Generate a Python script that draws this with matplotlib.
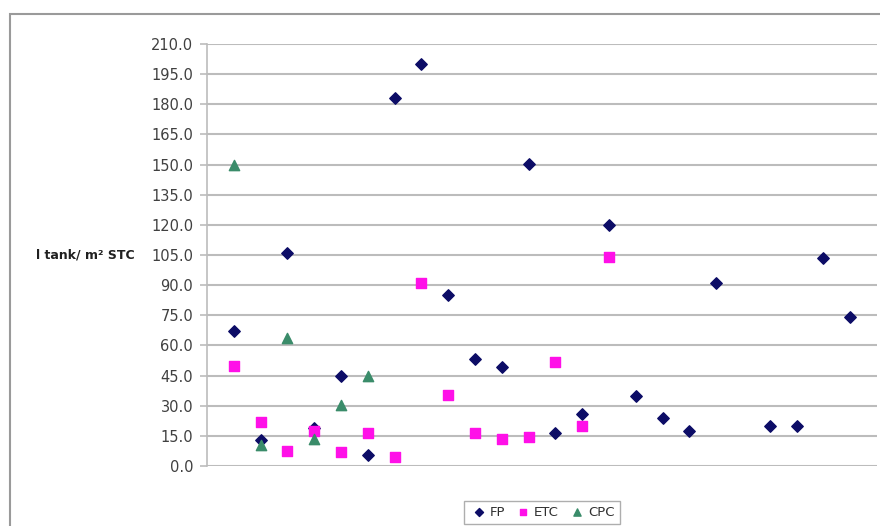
import matplotlib.pyplot as plt
from matplotlib.patches import Rectangle
from matplotlib.ticker import FormatStrFormatter

# valores (una posicion por instalacion)
fp_x = [1, 2, 3, 4, 5, 6, 7, 8, 9, 10, 11, 12, 13, 14, 15, 16, 17, 18, 19, 21, 22, 23, 24]
fp_y = [67, 13, 106, 19, 45, 5.5, 183, 200, 85, 53, 49.5, 150.5, 16.5, 26, 120, 35, 24, 17.5, 91, 20, 20, 103.5, 74]

etc_x = [1, 2, 3, 4, 5, 6, 7, 8, 9, 10, 11, 12, 13, 14, 15]
etc_y = [50, 22, 7.5, 17.5, 7, 16.5, 4.5, 91, 35.5, 16.5, 13.5, 14.5, 52, 20, 104]

cpc_x = [1, 2, 3, 4, 5, 6]
cpc_y = [150, 10.5, 63.5, 13.5, 30.5, 45]

y_ticks = [i * 15 for i in range(15)]

fig = plt.figure(figsize=(8.8, 5.26), dpi=100)
ax = fig.add_axes([207 / 880, 1 - 466 / 526, 670 / 880, 422 / 526])

ax.scatter(fp_x, fp_y, marker='D', s=34, color='#0c0c66', label='FP', zorder=3)
ax.scatter(etc_x, etc_y, marker='s', s=50, color='#ff10e8', label='ETC', zorder=3)
ax.scatter(cpc_x, cpc_y, marker='^', s=55, color='#3a8c6a', label='CPC', zorder=4)

ax.set_xlim(0, 25)
ax.set_ylim(0, 210)
ax.set_yticks(y_ticks)
ax.yaxis.set_major_formatter(FormatStrFormatter('%.1f'))
ax.set_xticks([])
ax.grid(axis='y', color='#bcbcbc', linewidth=1.5)
ax.set_axisbelow(True)
for lado in ['top', 'right', 'bottom']:
    ax.spines[lado].set_visible(False)
ax.spines['left'].set_color('#bcbcbc')
ax.spines['left'].set_linewidth(1.2)
ax.tick_params(axis='y', colors='#bcbcbc', labelcolor='#404040', labelsize=10.5,
               length=5, width=1.2, pad=5)

fig.text(135 / 880, 1 - 255 / 526, 'l tank/ m² STC', ha='right', va='center',
         fontsize=9, fontweight='bold', color='#202020')

# marco exterior del grafico
fig.patches.append(Rectangle((10 / 880, -0.1), 1.0, 1 - 14 / 526 + 0.1,
                             transform=fig.transFigure, fill=False,
                             edgecolor='#9a9a9a', linewidth=1.5))

leg = fig.legend(loc='upper center', bbox_to_anchor=(0.616, 1 - 494 / 526), ncol=3,
                 frameon=True, fancybox=False, fontsize=9.5, handletextpad=0.1,
                 columnspacing=0.7, borderpad=0.4, markerscale=0.7, handlelength=1.4)
leg.get_frame().set_edgecolor('#9a9a9a')
for t in leg.get_texts():
    t.set_color('#303030')

fig.savefig('out.png', dpi=100)
